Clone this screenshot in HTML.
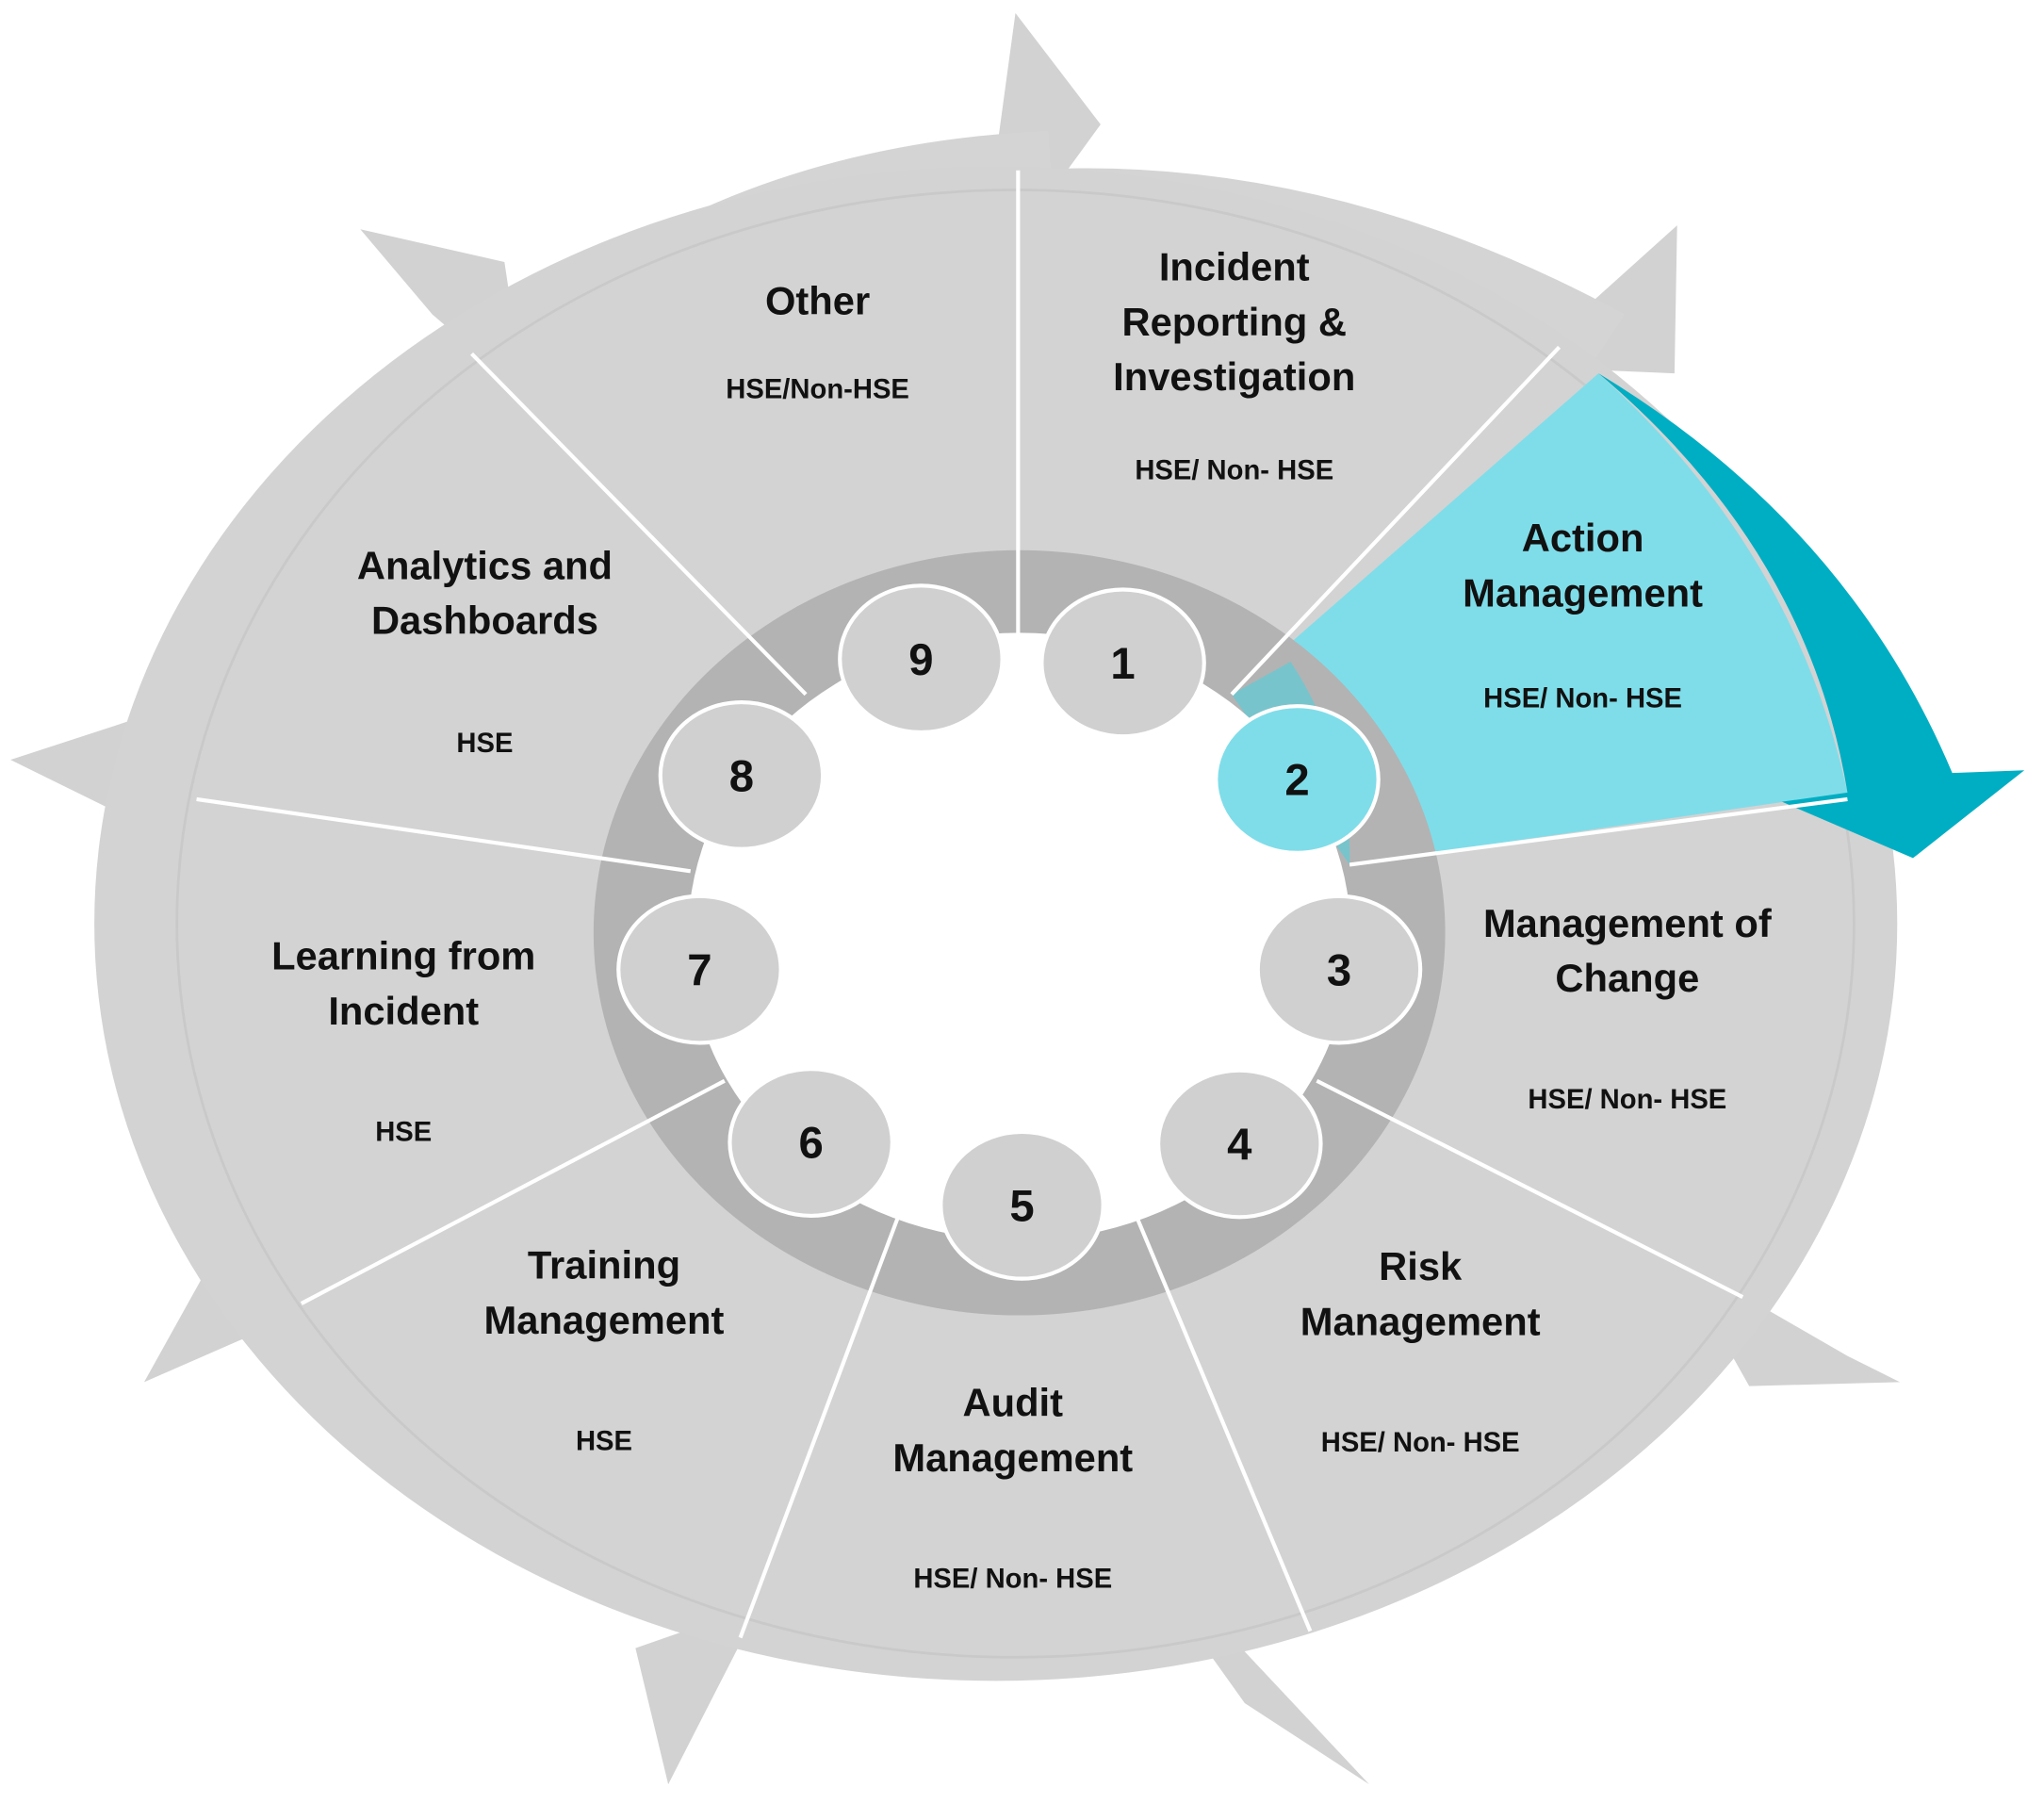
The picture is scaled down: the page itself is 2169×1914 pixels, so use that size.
<!DOCTYPE html>
<html><head><meta charset="utf-8"><style>
html,body{margin:0;padding:0;background:#fff;}
svg{display:block;}
text{font-family:"Liberation Sans",sans-serif;font-weight:bold;fill:#111;text-anchor:middle;}
.t{font-size:30px;}
.s{font-size:21px;}
.n{font-size:34px;}
</style></head><body>
<svg width="2169" height="1914" viewBox="0 0 1560 1377" preserveAspectRatio="none" xmlns="http://www.w3.org/2000/svg">
<g fill="#d2d2d2">
<polygon points="775,10 840,95 778,180 760,120"/>
<polygon points="1160,280 1280,172 1278,285"/>
<polygon points="1280,960 1410,1035 1450,1055 1335,1058"/>
<polygon points="940,1250 1045,1362 950,1300 900,1230"/>
<polygon points="485,1258 510,1362 580,1225"/>
<polygon points="110,1055 160,965 270,985"/>
<polygon points="8,580 115,545 205,615 130,640"/>
<polygon points="275,175 385,200 400,300 330,240"/>
</g>
<g fill="#d4d4d4">
<path d="M390,250 Q560,110 800,100 L805,175 Q600,160 420,290 Z"/>
<path d="M780,130 Q1010,115 1240,240 L1200,300 Q1000,180 780,180 Z"/>
</g>
<ellipse cx="760" cy="705" rx="688" ry="578" fill="#d3d3d3"/>
<ellipse cx="775" cy="705" rx="640" ry="560" fill="none" stroke="#c9c9c9" stroke-width="2"/>
<path d="M940,530 L1220,285 Q1370,420 1410,605 L1030,660 Z" fill="#7fdde9"/>
<path d="M1220,285 Q1410,400 1490,590 L1545,588 L1460,655 L1360,612 L1410,605 Q1380,420 1220,285 Z" fill="#00aec3"/>
<ellipse cx="778" cy="712" rx="325" ry="292" fill="#b3b3b3"/>
<path d="M940,530 L1030,660 A325,292 0 0 0 985,505 Z" fill="#78c4cc"/>
<ellipse cx="778" cy="715" rx="253" ry="232" fill="#ffffff"/>
<g stroke="#ffffff" stroke-width="3" fill="none">
<line x1="777" y1="130" x2="777" y2="485"/>
<line x1="940" y1="530" x2="1190" y2="265"/>
<line x1="1030" y1="660" x2="1410" y2="610"/>
<line x1="1005" y1="825" x2="1330" y2="990"/>
<line x1="868" y1="930" x2="1000" y2="1245"/>
<line x1="685" y1="930" x2="565" y2="1250"/>
<line x1="553" y1="825" x2="230" y2="995"/>
<line x1="527" y1="665" x2="150" y2="610"/>
<line x1="615" y1="530" x2="360" y2="270"/>
</g>
<g stroke="#ffffff" stroke-width="3" fill="#d0d0d0">
<ellipse cx="857" cy="506" rx="62" ry="56"/>
<ellipse cx="990" cy="595" rx="62" ry="56" fill="#7fdde9"/>
<ellipse cx="1022" cy="740" rx="62" ry="56"/>
<ellipse cx="946" cy="873" rx="62" ry="56"/>
<ellipse cx="780" cy="920" rx="62" ry="56"/>
<ellipse cx="619" cy="872" rx="62" ry="56"/>
<ellipse cx="534" cy="740" rx="62" ry="56"/>
<ellipse cx="566" cy="592" rx="62" ry="56"/>
<ellipse cx="703" cy="503" rx="62" ry="56"/>
</g>
<text class="n" x="857" y="518">1</text>
<text class="n" x="990" y="607">2</text>
<text class="n" x="1022" y="752">3</text>
<text class="n" x="946" y="885">4</text>
<text class="n" x="780" y="932">5</text>
<text class="n" x="619" y="884">6</text>
<text class="n" x="534" y="752">7</text>
<text class="n" x="566" y="604">8</text>
<text class="n" x="703" y="515">9</text>
<text class="t" x="624" y="240">Other</text>
<text class="s" x="624" y="304">HSE/Non-HSE</text>
<text class="t" x="942" y="214">Incident</text>
<text class="t" x="942" y="256">Reporting &amp;</text>
<text class="t" x="942" y="298">Investigation</text>
<text class="s" x="942" y="366">HSE/ Non- HSE</text>
<text class="t" x="1208" y="421">Action</text>
<text class="t" x="1208" y="463">Management</text>
<text class="s" x="1208" y="540">HSE/ Non- HSE</text>
<text class="t" x="1242" y="715">Management of</text>
<text class="t" x="1242" y="757">Change</text>
<text class="s" x="1242" y="846">HSE/ Non- HSE</text>
<text class="t" x="1084" y="977">Risk</text>
<text class="t" x="1084" y="1019">Management</text>
<text class="s" x="1084" y="1108">HSE/ Non- HSE</text>
<text class="t" x="773" y="1081">Audit</text>
<text class="t" x="773" y="1123">Management</text>
<text class="s" x="773" y="1212">HSE/ Non- HSE</text>
<text class="t" x="461" y="976">Training</text>
<text class="t" x="461" y="1018">Management</text>
<text class="s" x="461" y="1107">HSE</text>
<text class="t" x="308" y="740">Learning from</text>
<text class="t" x="308" y="782">Incident</text>
<text class="s" x="308" y="871">HSE</text>
<text class="t" x="370" y="442">Analytics and</text>
<text class="t" x="370" y="484">Dashboards</text>
<text class="s" x="370" y="574">HSE</text>
</svg>
</body></html>
